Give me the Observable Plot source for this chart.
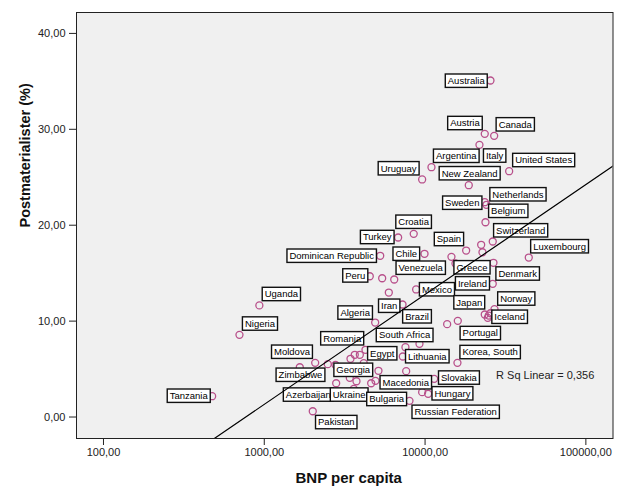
<!DOCTYPE html>
<html>
<head>
<meta charset="utf-8">
<script src="https://cdn.jsdelivr.net/npm/d3@7"></script>
<script src="https://cdn.jsdelivr.net/npm/@observablehq/plot@0.6"></script>
<style>
  body { margin: 0; background: #ffffff; }
  #chart svg { display: block; }
</style>
</head>
<body>
<div id="chart"></div>
<script>
// ---- data ----
const countries = ["Australia","Austria","Canada","Italy","Argentina","United States","Uruguay","New Zealand",
  "Sweden","Netherlands","Belgium","Croatia","Turkey","Switzerland","Spain","Chile","Dominican Republic",
  "Luxembourg","Greece","Denmark","Venezuela","Peru","Ireland","Mexico","Iran","Brazil","Uganda","Norway",
  "Japan","Iceland","Algeria","Portugal","Nigeria","South Africa","Romania","Egypt","Lithuania","Moldova",
  "Korea, South","Zimbabwe","Georgia","Macedonia","Slovakia","Azerbaijan","Ukraine","Hungary","Bulgaria",
  "Tanzania","Russian Federation","Pakistan"];
const gdp = [25510,23510,26900,21790,10960,33340,9590,18700,
  23510,24090,23750,8500,6800,26360,18010,9920,5260,
  44150,15460,26630,6430,4530,26360,8800,5950,7240,932,27020,
  23510,24540,4894,15980,701,7550,4260,3930,7270,2073,
  15900,1663,3402,7630,11390,2800,3745,10450,9590,
  474,8000,2002];
const post = [35.09,29.53,29.32,28.38,26.05,25.63,24.77,24.17,
  22.40,22.13,20.31,19.10,18.72,18.30,17.36,17.02,16.81,
  16.63,16.01,16.08,14.34,14.68,13.89,13.30,12.98,11.73,11.64,11.24,
  10.69,10.34,9.85,10.03,8.57,7.28,7.01,6.49,6.31,5.65,
  5.65,5.19,4.09,4.78,3.98,3.52,3.73,2.42,2.59,
  2.17,1.69,0.60];
// unlabelled cases
const otherGdp = [22330,22750,14590,5410,24900,25510,13720,9230,3654,3437,2483,2772,4156,5130,4622,4915,3602];
const otherPost = [17.96,17.18,16.70,14.47,10.58,10.82,9.68,7.63,6.49,6.07,5.51,5.44,5.61,4.82,3.52,3.77,2.94];

const xTicks = [100, 1000, 10000, 100000];
const yTicks = [0, 10, 20, 30, 40];
const fit = {intercept: -33.06, slope: 11.46, rSq: "0,356"};

// ---- label placement (pixel offsets of each label box centre from its case) ----
const labelOffsets = [[-23.7,0.7],[-19.3,-10.3],[21.6,-11],[15.7,11.2],[25.3,-10.9],[35,-10.7],[-23,-10.7],[1.4,-11.5],
  [-22,1],[32,-10],[23.3,-10.9],[0.4,-11.6],[-20.4,0],[28.4,-10.7],[-16.7,-11],[-17.7,0.4],[-48,0.4],
  [31.3,-10.8],[17,4.3],[24.7,11.2],[27,-11.3],[-14,-0.3],[-19.8,0],[21.3,0.3],[0.9,13.7],[15,12.3],[22.5,-10.9],[22.3,-10.2],
  [-15,-11.7],[22.4,-0.6],[-19.5,-9.5],[23,12.7],[21,-10.8],[-0.3,-11.7],[-22.8,-11],[22.9,-1],[25,0.2],[-22.7,-10.6],
  [33.2,-10.3],[1.2,8],[4,-7.5],[0.1,11.6],[25.3,-0.8],[-27.4,11.8],[-6.8,13.8],[24.8,0],[-35,7.3],
  [-22.9,0],[46.7,11.5],[24,11.3]];

// ---- tables ----
const labeled = countries.map((c, i) => ({country: c, gdp: gdp[i], post: post[i]}));
const others = otherGdp.map((g, i) => ({country: "", gdp: g, post: otherPost[i]}));
const allCases = labeled.concat(others);

const xDomain = [67.95, 147500];
const yDomain = [-2.24, 42.18];
const fitLine = xDomain.map(x => ({gdp: x, post: fit.intercept + fit.slope * Math.log10(x)}));

const fmt = d => d.toFixed(2).replace(".", ",");
const FONT = "'Liberation Sans', Arial, sans-serif";
const LABEL_SIZE = 9.5;

function boxedLabels(index, scales, values) {
  const ctx = document.createElement("canvas").getContext("2d");
  ctx.font = `${LABEL_SIZE}px ${FONT}`;
  const g = d3.create("svg:g");
  for (const i of index) {
    const t = values.text[i];
    const cx = values.x[i] + labelOffsets[i][0];
    const cy = values.y[i] + labelOffsets[i][1];
    const w = ctx.measureText(t).width + 5;
    const h = 13.4;
    g.append("rect")
      .attr("x", cx - w / 2).attr("y", cy - h / 2)
      .attr("width", w).attr("height", h)
      .attr("fill", "#ffffff").attr("stroke", "#111").attr("stroke-width", 1.4);
    g.append("text")
      .attr("x", cx).attr("y", cy).attr("dy", "0.36em")
      .attr("text-anchor", "middle")
      .attr("font-size", LABEL_SIZE).attr("font-family", FONT)
      .attr("fill", "#000")
      .text(t);
  }
  return g.node();
}

const chart = Plot.plot({
  width: 625,
  height: 500,
  marginLeft: 76,
  marginRight: 12.5,
  marginTop: 12,
  marginBottom: 62,
  style: {fontFamily: FONT, fontSize: "11px", background: "#ffffff", color: "#222"},
  x: {type: "log", domain: xDomain, axis: null},
  y: {domain: yDomain, axis: null},
  marks: [
    Plot.frame({fill: "#f0f0f0", stroke: null}),
    Plot.dot(allCases, {x: "gdp", y: "post", r: 3.5, stroke: "#b8508b", strokeWidth: 1.3, fill: "none"}),
    Plot.text(labeled, {x: "gdp", y: "post", text: "country", render: boxedLabels}),
    Plot.line(fitLine, {x: "gdp", y: "post", stroke: "#000", strokeWidth: 1.2, clip: true}),
    Plot.text([`R Sq Linear = ${fit.rSq}`], {x: 27660, y: 4.33, textAnchor: "start", fontSize: 11, fill: "#222"}),
    Plot.frame({stroke: "#222", strokeWidth: 1}),
    Plot.axisX(xTicks, {tickSize: 7, tickPadding: 3, tickFormat: fmt, label: null, fontSize: 11, stroke: "#222"}),
    Plot.axisY(yTicks, {tickSize: 7, tickPadding: 4, tickFormat: fmt, label: null, fontSize: 11, stroke: "#222"}),
    Plot.text(["BNP per capita"], {frameAnchor: "bottom", dy: 40, dx: 4, lineAnchor: "middle", fontWeight: "bold", fontSize: 15, fill: "#111"}),
    Plot.text(["Postmaterialister (%)"], {frameAnchor: "left", dx: -51, dy: 2, rotate: -90, lineAnchor: "middle", fontWeight: "bold", fontSize: 14.5, fill: "#111"})
  ]
});

document.getElementById("chart").appendChild(chart);
</script>
</body>
</html>
